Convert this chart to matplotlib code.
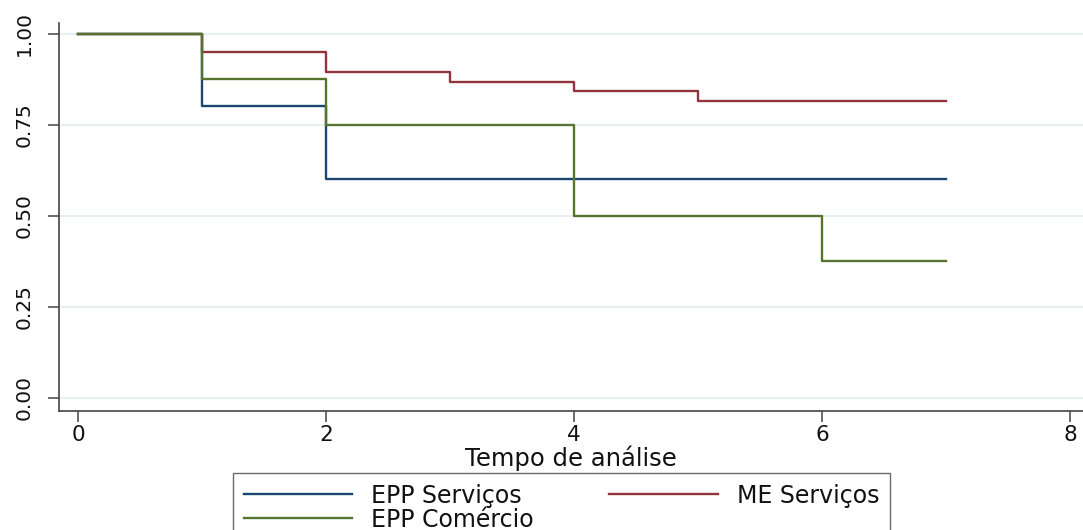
import matplotlib
matplotlib.use("Agg")
import matplotlib.pyplot as plt

# ---- data ----
epp_serv_t = [0, 1, 2, 7]
epp_serv_s = [1.0, 0.8, 0.6, 0.6]

me_serv_t = [0, 1, 2, 3, 4, 5, 7]
me_serv_s = [1.0, 0.95, 0.894, 0.868, 0.842, 0.816, 0.816]

epp_com_t = [0, 1, 2, 4, 6, 7]
epp_com_s = [1.0, 0.875, 0.75, 0.5, 0.375, 0.375]

x_ticks = [0, 2, 4, 6, 8]
y_ticks = [0.0, 0.25, 0.5, 0.75, 1.0]
y_tick_labels = ["0.00", "0.25", "0.50", "0.75", "1.00"]
labels = ["EPP Serviços", "ME Serviços", "EPP Comércio"]
xlabel = "Tempo de análise"

plt.rcParams['font.family'] = ['DejaVu Sans']

W, H = 1083, 530
fig = plt.figure(figsize=(W / 100, H / 100), dpi=100)
ax_left, ax_bottom_px, ax_top_px = 59, 410.5, 22.7
ax = fig.add_axes([ax_left / W, (H - ax_bottom_px) / H, 1 - ax_left / W,
                   (ax_bottom_px - ax_top_px) / H])

c_blue = "#1a476f"
c_red = "#90353b"
c_green = "#55752f"

l1, = ax.step(epp_serv_t, epp_serv_s, where="post", color=c_blue, lw=1.7, zorder=3)
l2, = ax.step(me_serv_t, me_serv_s, where="post", color=c_red, lw=1.7, zorder=3)
l3, = ax.step(epp_com_t, epp_com_s, where="post", color=c_green, lw=1.7, zorder=3)

ax.set_xlim(-0.153, 8.105)
ax.set_ylim(-0.035, 1.030)

ax.set_xticks(x_ticks)
ax.set_yticks(y_ticks)
ax.set_yticklabels(y_tick_labels, rotation=90, va="center")

for s in ["top", "right"]:
    ax.spines[s].set_visible(False)
for s in ["left", "bottom"]:
    ax.spines[s].set_color("#444444")
    ax.spines[s].set_linewidth(1.2)

ax.tick_params(axis="both", direction="out", length=8, width=1.1, color="#444444",
               labelcolor="#111111")
ax.tick_params(axis="x", labelsize=15.5, pad=2.5)
ax.tick_params(axis="y", labelsize=14.5, pad=10)

ax.yaxis.grid(True, color="#e6eef0", lw=1.3, zorder=0)
ax.set_axisbelow(True)

ax.set_xlabel(xlabel, fontsize=17.5, labelpad=0.5, color="#111111")

leg = fig.legend([l1, l3, l2], [labels[0], labels[2], labels[1]],
                 ncol=2, loc="upper left",
                 bbox_to_anchor=(233 / W, 1 - 473 / H),
                 bbox_transform=fig.transFigure,
                 fontsize=17, frameon=True, fancybox=False, shadow=False,
                 handlelength=4.6, handletextpad=0.8, columnspacing=3.2,
                 labelspacing=0.0, borderpad=0.45, borderaxespad=0)
leg.get_frame().set_edgecolor("#444444")
leg.get_frame().set_linewidth(1.0)
for t in leg.get_texts():
    t.set_color("#111111")

fig.savefig("out.png", dpi=100)
